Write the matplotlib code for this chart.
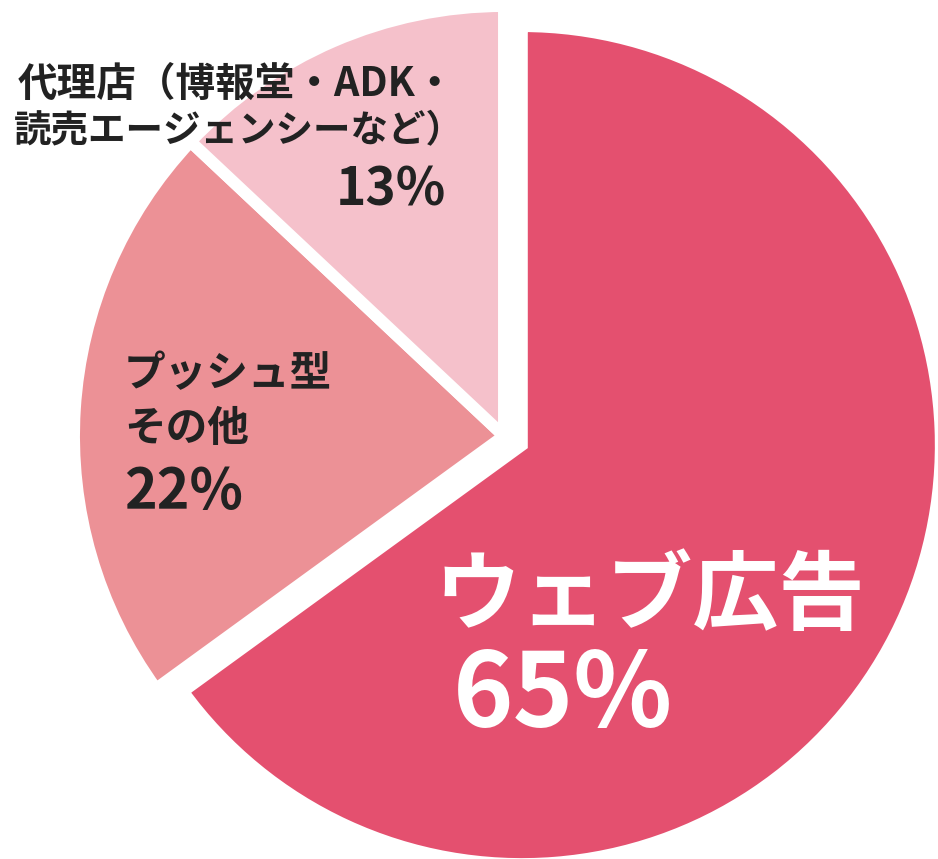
import matplotlib
matplotlib.use("Agg")
import matplotlib.pyplot as plt

plt.rcParams['font.family'] = ['Noto Sans CJK JP', 'DejaVu Sans']

# Data
labels = ["ウェブ広告", "プッシュ型\nその他", "代理店（博報堂・ADK・\n読売エージェンシーなど）"]
shares = [65, 22, 13]
colors = ["#E4506F", "#EC9196", "#F5C1CB"]
explode = [20, 0, 0]  # pie offsets are in data units (pixels here)

W, H = 938, 859
fig = plt.figure(figsize=(W / 100, H / 100), dpi=100)
ax = fig.add_axes([0, 0, 1, 1])

# pie in pixel-like units so that placement follows the reference
wedges, _ = ax.pie(shares, colors=colors, explode=explode, startangle=90,
                   counterclock=False, center=(504, H - 436), radius=430,
                   wedgeprops=dict(edgecolor="white", linewidth=8.6))
# the big slice is drawn a little smaller than the others in the original
wedges[0].set_radius(419)
ax.set_xlim(0, W)
ax.set_ylim(0, H)
ax.set_aspect("equal")
ax.axis("off")

dark = "#222222"

# agency label
ax.text(18, H - 84, labels[2].split("\n")[0], fontsize=28.5, fontweight="bold",
        color=dark, va="center", ha="left")
ax.text(14, H - 131, labels[2].split("\n")[1], fontsize=27, fontweight="bold",
        color=dark, va="center", ha="left")
ax.text(446, H - 190, f"{shares[2]}%", fontsize=37, fontweight="bold",
        color=dark, va="center", ha="right")

# push label
ax.text(124, H - 374, labels[1].split("\n")[0], fontsize=30, fontweight="bold",
        color=dark, va="center", ha="left")
ax.text(124, H - 429, labels[1].split("\n")[1], fontsize=30, fontweight="bold",
        color=dark, va="center", ha="left")
ax.text(124, H - 492, f"{shares[1]}%", fontsize=40, fontweight="bold",
        color=dark, va="center", ha="left")

# web label
ax.text(434, H - 598, labels[0], fontsize=62, fontweight="bold",
        color="white", va="center", ha="left")
ax.text(453, H - 697, f"{shares[0]}%", fontsize=74, fontweight="bold",
        color="white", va="center", ha="left")

fig.savefig("out.png", dpi=100)
